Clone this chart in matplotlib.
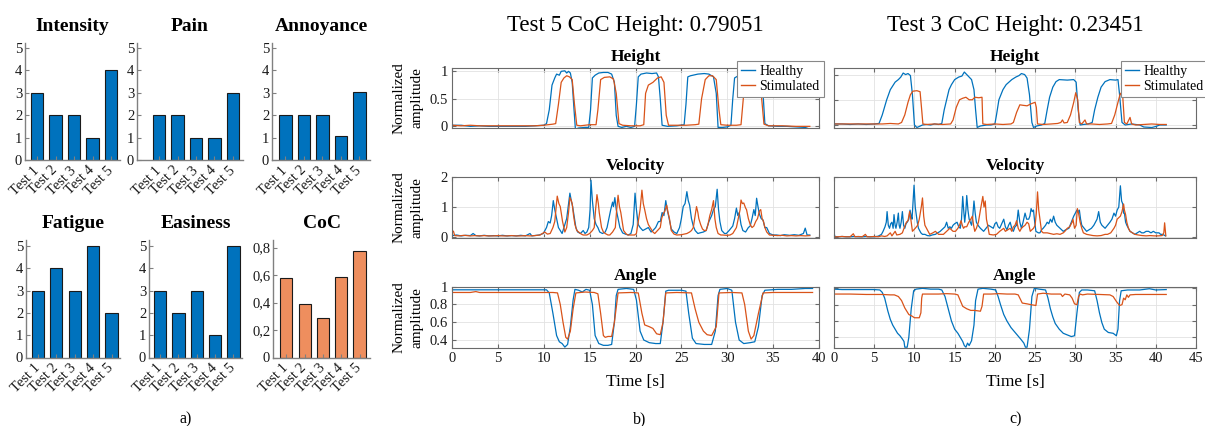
import matplotlib
matplotlib.use('Agg')
import matplotlib.pyplot as plt
import numpy as np
from matplotlib.lines import Line2D
from matplotlib.ticker import FixedLocator, FixedFormatter

plt.rcParams['font.family'] = ['Liberation Serif', 'DejaVu Serif']

# ---------------- data: panel a) ----------------
tests = ['Test 1', 'Test 2', 'Test 3', 'Test 4', 'Test 5']
intensity = [3, 2, 2, 1, 4]
pain = [2, 2, 1, 1, 3]
annoyance = [2, 2, 2, 1.05, 3.05]
fatigue = [3, 4, 3, 5, 2]
easiness = [3, 2, 3, 1, 5]
coc = [0.58, 0.39, 0.29, 0.585, 0.775]
coc_ticks = [0, 0.2, 0.4, 0.6, 0.8]
coc_ticklabels = ['0', '0,2', '0,4', '0,6', '0,8']

# ---------------- data: panel b) Test 5 (time [s], value) ----------------
b_height_healthy = [(0,0.02),(1,0.02),(2,0.0),(3,0.01),(4,0.0),(5,0.0),(6,0.0),(7,0.0),(8,0.0),(9,0.01),(10,0.02),(10.3,0.05),(10.6,0.3),(10.9,0.75),(11.2,0.88),(11.4,0.95),(11.7,0.93),(11.9,1.0),(12.3,1.01),(12.5,0.97),(12.7,1.0),(12.9,0.97),(13.1,0.8),(13.3,0.3),(13.45,-0.05),(13.8,-0.03),(14.5,-0.02),(14.9,-0.02),(15.1,0.3),(15.3,0.88),(15.6,0.93),(16.0,0.97),(16.5,0.98),(17.0,0.98),(17.4,0.95),(17.7,0.8),(17.9,0.2),(18.1,0.0),(18.5,-0.02),(19.0,0.0),(19.5,-0.02),(19.9,0.0),(20.1,0.4),(20.3,0.9),(20.6,0.95),(21.2,0.97),(21.8,0.96),(22.3,0.97),(22.5,0.9),(22.7,0.5),(22.9,0.02),(23.5,0.0),(24.5,0.01),(25.3,0.03),(25.5,0.4),(25.7,0.9),(26.0,0.92),(26.8,0.95),(27.5,0.96),(28.0,0.95),(28.5,0.9),(28.8,0.6),(29.0,-0.02),(29.5,-0.02),(30.0,-0.01),(30.4,0.02),(30.6,0.5),(30.8,0.88),(31.2,0.92),(32.0,0.94),(33.0,0.95),(33.7,0.93),(33.9,0.6),(34.1,0.05),(34.5,0.01),(35.5,0.0),(36.5,0.0),(37.5,-0.01),(38.5,-0.02),(39.0,-0.05)]
b_height_stim = [(0,0.02),(1,0.01),(2,0.02),(3,0.01),(4,0.01),(5,0.01),(6,0.01),(7,0.01),(8,0.01),(9,0.01),(10,0.02),(11.0,0.04),(11.3,0.05),(11.6,0.4),(11.9,0.8),(12.2,0.88),(12.5,0.92),(12.8,0.9),(13.1,0.85),(13.35,0.4),(13.6,0.02),(14.0,0.01),(15.0,0.03),(15.7,0.03),(15.9,0.3),(16.2,0.85),(16.6,0.89),(17.2,0.9),(17.6,0.86),(17.9,0.6),(18.2,0.05),(18.6,0.02),(19.5,0.01),(20.5,0.01),(20.9,0.03),(21.1,0.6),(21.4,0.75),(21.9,0.8),(22.4,0.88),(22.8,0.9),(23.1,0.8),(23.35,0.2),(23.6,0.02),(24.5,0.02),(25.5,0.02),(26.5,0.03),(26.9,0.04),(27.2,0.5),(27.6,0.85),(28.0,0.92),(28.4,0.92),(28.8,0.85),(29.1,0.3),(29.3,0.03),(30.0,0.02),(31.0,0.02),(31.5,0.03),(31.8,0.6),(32.1,0.9),(32.7,0.93),(33.4,0.9),(33.7,0.6),(34.0,0.04),(34.5,0.01),(36.0,0.01),(37.5,0.0),(39.0,0.0)]
b_vel_healthy = [(0,0.03),(0.5,0.05),(1,0.02),(1.5,0.04),(2,0.03),(2.3,0.1),(2.6,0.03),(3,0.02),(3.5,0.04),(4,0.02),(4.5,0.03),(5,0.02),(5.5,0.04),(6,0.02),(6.5,0.03),(7,0.02),(7.5,0.04),(8,0.02),(8.5,0.1),(8.7,0.02),(9,0.03),(9.5,0.05),(9.95,0.1),(10.3,0.3),(10.5,0.5),(10.7,0.45),(10.86,0.7),(11.04,1.2),(11.2,0.9),(11.4,0.6),(11.6,0.3),(11.8,0.2),(12.0,0.1),(12.2,0.3),(12.5,0.6),(12.7,1.1),(12.85,1.45),(13.0,1.2),(13.15,1.0),(13.3,0.7),(13.5,0.3),(13.7,0.15),(14.0,0.1),(14.3,0.2),(14.5,0.1),(14.7,0.15),(14.9,0.3),(15.05,0.9),(15.15,1.88),(15.3,1.2),(15.5,0.6),(15.7,0.4),(15.9,0.3),(16.1,0.15),(16.4,0.1),(16.7,0.15),(16.9,0.3),(17.1,0.6),(17.3,0.9),(17.5,1.15),(17.6,1.0),(17.75,1.3),(17.9,0.9),(18.1,0.6),(18.3,0.3),(18.6,0.12),(18.9,0.08),(19.2,0.05),(19.5,0.1),(19.75,0.4),(19.95,1.45),(20.1,0.9),(20.3,0.4),(20.5,0.3),(20.8,0.2),(21.1,0.25),(21.4,0.3),(21.7,0.15),(21.9,0.2),(22.2,0.3),(22.5,0.5),(22.7,0.5),(22.9,0.8),(23.1,0.7),(23.3,1.2),(23.45,0.9),(23.6,0.7),(23.9,0.25),(24.2,0.15),(24.5,0.1),(24.8,0.3),(25.0,0.6),(25.2,1.0),(25.4,1.1),(25.6,1.5),(25.75,1.2),(25.9,1.05),(26.1,0.6),(26.3,0.35),(26.5,0.2),(26.8,0.1),(27.0,0.12),(27.4,0.15),(27.7,0.2),(28.0,0.5),(28.3,0.7),(28.5,0.9),(28.7,1.0),(28.9,1.58),(29.05,0.9),(29.2,0.5),(29.4,0.2),(29.7,0.1),(29.9,0.1),(30.2,0.2),(30.6,0.35),(30.8,0.6),(31.0,0.95),(31.15,0.7),(31.3,0.8),(31.5,0.4),(31.7,0.2),(32.0,0.15),(32.3,0.3),(32.5,0.35),(32.7,0.6),(32.9,0.9),(33.05,0.7),(33.2,1.28),(33.35,1.0),(33.5,0.75),(33.7,0.6),(33.9,0.55),(34.1,0.3),(34.3,0.3),(34.6,0.1),(35.0,0.05),(35.4,0.05),(35.8,0.03),(36.2,0.06),(36.8,0.04),(37.3,0.06),(37.8,0.04),(38.3,0.1),(38.5,0.28),(38.7,0.05),(39.0,0.05)]
b_vel_stim = [(0,0.15),(0.15,0.18),(0.3,0.03),(0.8,0.02),(1.3,0.04),(2,0.02),(2.5,0.03),(3,0.02),(3.5,0.03),(4,0.02),(4.5,0.02),(5,0.03),(5.5,0.02),(6,0.02),(6.5,0.03),(7,0.02),(7.5,0.02),(8,0.03),(8.5,0.02),(9,0.03),(9.6,0.05),(10.1,0.15),(10.4,0.08),(10.7,0.1),(11.0,0.3),(11.2,0.5),(11.47,1.35),(11.65,1.1),(11.8,1.0),(12.05,0.5),(12.3,0.15),(12.5,0.3),(12.7,0.8),(12.85,1.3),(13.0,1.2),(13.1,1.1),(13.25,0.7),(13.4,0.4),(13.6,0.2),(13.8,0.15),(14.1,0.08),(14.3,0.05),(14.7,0.05),(15.0,0.1),(15.3,0.2),(15.5,0.3),(15.65,0.9),(15.8,1.4),(15.95,1.1),(16.05,0.8),(16.3,0.3),(16.5,0.15),(16.7,0.1),(17.0,0.05),(17.2,0.05),(17.5,0.15),(17.8,0.3),(17.95,0.9),(18.1,1.38),(18.25,1.0),(18.4,0.8),(18.7,0.2),(19.0,0.08),(19.2,0.05),(19.5,0.05),(19.9,0.05),(20.1,0.1),(20.3,0.5),(20.5,0.9),(20.7,1.55),(20.85,1.1),(21.0,0.9),(21.2,0.6),(21.4,0.4),(21.6,0.3),(21.9,0.15),(22.1,0.1),(22.4,0.2),(22.7,0.3),(22.85,0.6),(23.0,0.75),(23.2,0.85),(23.4,1.05),(23.55,0.8),(23.7,0.6),(23.9,0.2),(24.2,0.08),(24.5,0.05),(25.0,0.06),(25.3,0.08),(25.6,0.1),(25.9,0.15),(26.1,0.2),(26.3,0.3),(26.5,0.7),(26.65,1.0),(26.8,0.8),(26.9,0.6),(27.1,0.4),(27.3,0.25),(27.5,0.2),(27.7,0.2),(27.9,0.4),(28.1,0.7),(28.3,0.9),(28.5,1.2),(28.65,0.6),(28.8,0.3),(29.0,0.1),(29.3,0.05),(29.5,0.05),(29.9,0.04),(30.3,0.05),(30.6,0.1),(30.8,0.2),(31.0,0.3),(31.2,0.6),(31.4,0.9),(31.5,1.22),(31.65,1.1),(31.8,1.12),(32.0,0.95),(32.1,0.9),(32.3,0.6),(32.5,0.4),(32.7,0.3),(32.9,0.35),(33.1,0.5),(33.3,0.6),(33.5,0.85),(33.65,0.9),(33.8,0.6),(33.95,0.5),(34.1,0.3),(34.3,0.15),(34.6,0.05),(35,0.04),(35.5,0.03),(36,0.04),(36.5,0.02),(37,0.03),(37.5,0.02),(38,0.03),(38.5,0.02),(39,0.03)]
b_angle_healthy = [(0,0.965),(2,0.965),(5,0.965),(8,0.965),(10.3,0.965),(10.6,0.93),(11.0,0.7),(11.4,0.45),(11.7,0.38),(12.0,0.36),(12.3,0.32),(12.6,0.35),(12.9,0.55),(13.2,0.85),(13.4,0.97),(13.8,0.96),(14.2,0.94),(14.6,0.97),(15.0,0.96),(15.3,0.8),(15.6,0.45),(16.0,0.36),(16.5,0.34),(17.0,0.34),(17.4,0.35),(17.7,0.6),(17.9,0.9),(18.1,0.97),(19.0,0.98),(19.8,0.97),(20.1,0.85),(20.5,0.5),(20.9,0.4),(21.5,0.37),(22.2,0.36),(22.7,0.36),(23.0,0.6),(23.3,0.95),(23.6,0.96),(25.0,0.96),(25.5,0.95),(25.8,0.7),(26.2,0.42),(26.6,0.36),(27.5,0.35),(28.3,0.35),(28.7,0.5),(29.0,0.9),(29.2,0.97),(30.0,0.98),(30.5,0.96),(30.9,0.6),(31.3,0.4),(31.8,0.36),(32.5,0.37),(33.0,0.38),(33.4,0.55),(33.8,0.9),(34.1,0.96),(35.5,0.97),(37.0,0.97),(38.5,0.98),(39.3,0.98)]
b_angle_stim = [(0,0.935),(2,0.935),(2.6,0.945),(3,0.935),(6,0.935),(9,0.935),(11.0,0.935),(11.5,0.93),(11.8,0.8),(12.1,0.6),(12.4,0.43),(12.6,0.41),(12.9,0.5),(13.2,0.75),(13.5,0.93),(14.5,0.94),(15.5,0.935),(15.9,0.92),(16.2,0.7),(16.5,0.45),(16.7,0.43),(17.0,0.44),(17.4,0.44),(17.7,0.6),(18.1,0.93),(19.5,0.935),(20.3,0.93),(20.7,0.7),(21.0,0.57),(21.5,0.55),(21.9,0.53),(22.3,0.47),(22.7,0.46),(23.0,0.6),(23.3,0.93),(24.5,0.935),(26.1,0.93),(26.5,0.75),(26.9,0.6),(27.4,0.5),(27.8,0.46),(28.3,0.45),(28.8,0.55),(29.1,0.93),(30.5,0.935),(31.6,0.93),(31.9,0.8),(32.3,0.5),(32.6,0.41),(32.9,0.45),(33.4,0.7),(33.9,0.93),(35,0.935),(37,0.935),(39.3,0.935)]

# ---------------- data: panel c) Test 3 (time [s], value) ----------------
c_height_healthy = [(0,0.02),(1,0.02),(2,0.01),(3,0.02),(4,0.01),(5,0.02),(5.6,0.03),(6.0,0.2),(6.55,0.5),(7.0,0.7),(7.2,0.75),(7.6,0.85),(8.0,0.9),(8.3,0.95),(8.6,1.03),(8.9,1.0),(9.2,1.02),(9.5,0.98),(9.75,0.6),(10.0,0.0),(10.3,-0.05),(10.6,-0.03),(11.0,0.0),(11.5,0.01),(12.0,0.0),(12.5,0.02),(13.0,0.01),(13.4,0.03),(13.7,0.3),(14.0,0.5),(14.3,0.7),(14.6,0.8),(15.0,0.9),(15.5,0.95),(15.9,0.97),(16.2,1.05),(16.5,1.0),(16.8,0.95),(17.1,0.9),(17.4,0.7),(17.6,0.3),(17.8,-0.05),(18.2,-0.02),(19.0,0.0),(19.5,0.0),(20.0,0.02),(20.2,0.2),(20.5,0.5),(21.0,0.7),(21.4,0.8),(22.1,0.9),(22.6,0.95),(23.0,0.98),(23.3,1.02),(23.7,1.0),(24.0,0.93),(24.3,0.6),(24.6,0.05),(24.8,-0.05),(25.2,-0.02),(25.8,0.0),(26.2,0.03),(26.5,0.3),(26.8,0.55),(27.2,0.75),(27.6,0.86),(28.0,0.9),(29.0,0.89),(29.8,0.9),(30.1,0.85),(30.35,0.3),(30.6,0.0),(31.0,0.01),(31.6,0.02),(32.1,0.05),(32.4,0.3),(32.8,0.55),(33.2,0.75),(33.7,0.86),(34.3,0.9),(35.0,0.89),(35.3,0.9),(35.5,0.6),(35.8,0.05),(36.2,0.0),(37.0,0.02),(38.0,0.0),(38.5,-0.04),(39.5,-0.05),(40.0,-0.03),(40.5,0.0),(41.3,0.0)]
c_height_stim = [(0,0.02),(2,0.02),(4,0.02),(6,0.02),(7,0.03),(8.0,0.02),(8.4,0.05),(8.8,0.2),(9.2,0.45),(9.5,0.6),(9.8,0.67),(10.3,0.68),(10.7,0.66),(10.9,0.3),(11.05,0.02),(11.5,0.01),(12.5,0.02),(13.5,0.01),(14.5,0.02),(14.8,0.1),(15.2,0.35),(15.6,0.5),(16.0,0.53),(16.4,0.55),(16.8,0.5),(17.2,0.5),(17.5,0.55),(18.0,0.54),(18.4,0.55),(18.5,0.02),(19.0,0.01),(20,0.02),(21,0.01),(22.0,0.02),(22.3,0.05),(22.7,0.25),(23.1,0.4),(23.5,0.39),(24.0,0.38),(24.5,0.42),(25.0,0.45),(25.15,0.35),(25.3,0.02),(26,0.01),(27,0.02),(27.8,0.03),(28.2,0.05),(28.4,0.1),(28.6,0.04),(29.0,0.05),(29.4,0.2),(29.8,0.45),(30.05,0.64),(30.3,0.5),(30.5,0.05),(30.8,0.02),(31.2,0.1),(31.4,0.02),(32,0.02),(33,0.01),(34,0.02),(34.5,0.03),(34.9,0.2),(35.3,0.45),(35.6,0.63),(35.9,0.55),(36.1,0.05),(36.4,0.02),(36.8,0.15),(37.0,0.02),(37.5,0.0),(38.5,0.01),(39.5,0.02),(40.5,0.01),(41.3,0.01)]
c_vel_healthy = [(0,0.15),(0.1,0.03),(0.5,0.02),(1,0.03),(1.5,0.02),(2,0.02),(2.5,0.03),(3,0.02),(3.5,0.02),(4,0.03),(4.5,0.02),(5,0.02),(5.5,0.04),(5.9,0.1),(6.1,0.2),(6.34,0.35),(6.5,0.5),(6.6,0.85),(6.75,0.4),(6.9,0.3),(7.05,0.45),(7.2,0.5),(7.35,0.3),(7.46,0.75),(7.6,0.4),(7.7,0.3),(7.85,0.5),(8.0,0.8),(8.1,0.4),(8.2,0.3),(8.35,0.5),(8.5,0.85),(8.65,0.4),(8.8,0.3),(8.95,0.45),(9.1,0.5),(9.3,0.6),(9.45,0.9),(9.6,0.7),(9.7,0.6),(9.95,1.72),(10.1,1.0),(10.2,0.8),(10.35,0.5),(10.5,0.3),(10.8,0.15),(11.0,0.1),(11.3,0.1),(11.6,0.06),(11.9,0.05),(12.2,0.08),(12.6,0.1),(12.9,0.15),(13.2,0.2),(13.4,0.25),(13.6,0.3),(13.8,0.35),(14.0,0.5),(14.2,0.3),(14.4,0.35),(14.6,0.3),(14.8,0.4),(15.0,0.45),(15.3,0.5),(15.5,0.35),(15.7,0.3),(15.85,0.6),(16.0,1.35),(16.15,0.8),(16.25,0.5),(16.4,0.9),(16.5,1.38),(16.65,0.9),(16.8,0.6),(16.95,0.5),(17.1,0.4),(17.25,0.7),(17.4,1.2),(17.55,0.8),(17.7,0.5),(17.9,0.4),(18.2,0.3),(18.4,0.25),(18.6,0.2),(18.9,0.3),(19.2,0.4),(19.5,0.35),(19.8,0.3),(20.0,0.45),(20.2,0.5),(20.4,0.35),(20.6,0.3),(20.85,0.45),(21.1,0.6),(21.3,0.35),(21.5,0.25),(21.7,0.4),(21.9,0.5),(22.1,0.3),(22.3,0.2),(22.5,0.35),(22.7,0.4),(22.9,0.9),(23.1,0.5),(23.3,0.3),(23.5,0.5),(23.75,0.8),(23.95,0.6),(24.2,0.6),(24.35,0.7),(24.5,0.95),(24.65,0.85),(24.8,0.9),(24.95,0.5),(25.1,0.2),(25.4,0.15),(25.6,0.15),(25.8,0.25),(26.0,0.3),(26.3,0.4),(26.5,0.5),(26.7,0.45),(26.9,0.6),(27.1,0.5),(27.3,0.7),(27.5,0.5),(27.7,0.4),(27.9,0.35),(28.1,0.3),(28.3,0.25),(28.5,0.2),(28.8,0.25),(29.2,0.3),(29.5,0.5),(29.8,0.7),(30.0,0.8),(30.2,0.9),(30.35,0.85),(30.5,0.9),(30.65,0.6),(30.8,0.4),(31.1,0.3),(31.4,0.2),(31.7,0.25),(32.0,0.3),(32.3,0.4),(32.5,0.5),(32.7,0.6),(32.9,0.85),(33.1,0.5),(33.3,0.4),(33.5,0.35),(33.7,0.3),(34.0,0.4),(34.3,0.5),(34.55,0.6),(34.8,0.8),(35.0,0.7),(35.2,0.9),(35.4,1.0),(35.6,1.7),(35.75,1.2),(35.9,1.1),(36.0,0.8),(36.1,0.8),(36.25,0.5),(36.4,0.4),(36.6,0.3),(36.8,0.2),(37.1,0.15),(37.4,0.1),(37.7,0.15),(38.0,0.2),(38.25,0.15),(38.5,0.15),(38.8,0.2),(39.1,0.2),(39.4,0.15),(39.7,0.2),(40.0,0.15),(40.4,0.15),(40.6,0.1),(40.8,0.1),(41.0,0.08),(41.2,0.05)]
c_vel_stim = [(0,0.02),(0.5,0.02),(1,0.03),(1.5,0.02),(2,0.02),(2.4,0.12),(2.6,0.02),(3,0.03),(3.5,0.02),(3.9,0.1),(4.1,0.02),(4.5,0.02),(5,0.03),(5.5,0.02),(5.9,0.05),(6.3,0.03),(6.6,0.05),(7.0,0.15),(7.2,0.05),(7.6,0.2),(7.8,0.08),(8.2,0.1),(8.5,0.15),(8.7,0.3),(9.0,0.5),(9.2,0.55),(9.4,0.85),(9.55,0.6),(9.75,0.2),(10.1,0.3),(10.4,0.4),(10.6,0.6),(10.85,1.0),(11.0,1.3),(11.15,0.7),(11.3,0.4),(11.5,0.3),(11.9,0.1),(12.3,0.15),(12.6,0.2),(13.0,0.1),(13.6,0.1),(14.0,0.2),(14.4,0.3),(14.8,0.2),(15.1,0.2),(15.4,0.3),(15.6,0.4),(15.8,0.55),(15.95,0.4),(16.1,0.3),(16.25,0.35),(16.5,0.35),(16.75,0.5),(17.0,0.6),(17.2,0.7),(17.35,0.4),(17.5,0.2),(17.7,0.3),(17.95,0.5),(18.2,0.9),(18.5,1.35),(18.65,1.0),(18.8,1.2),(18.95,0.6),(19.1,0.4),(19.3,0.1),(19.8,0.08),(20.2,0.1),(20.6,0.2),(21.1,0.3),(21.3,0.2),(21.6,0.25),(21.9,0.3),(22.1,0.2),(22.3,0.35),(22.5,0.4),(22.7,0.55),(22.9,0.3),(23.1,0.2),(23.3,0.3),(23.5,0.35),(23.75,0.4),(24.0,0.5),(24.2,0.45),(24.4,0.2),(24.6,0.25),(24.8,0.3),(25.0,0.4),(25.15,0.8),(25.3,1.5),(25.45,0.9),(25.6,0.6),(25.8,0.2),(26.0,0.15),(26.5,0.15),(27.0,0.12),(27.3,0.1),(27.7,0.12),(28.1,0.1),(28.5,0.15),(28.7,0.2),(29.0,0.3),(29.3,0.35),(29.6,0.5),(29.7,0.6),(29.9,0.3),(30.1,0.4),(30.25,0.95),(30.4,0.8),(30.6,0.5),(30.8,0.3),(31.0,0.15),(31.4,0.1),(31.8,0.08),(32.2,0.06),(32.7,0.05),(33.2,0.06),(33.7,0.1),(34.0,0.1),(34.4,0.15),(34.8,0.3),(35.0,0.4),(35.2,0.6),(35.4,0.65),(35.6,0.7),(35.8,0.85),(36.0,1.1),(36.1,0.9),(36.25,0.75),(36.4,0.5),(36.6,0.3),(36.8,0.2),(37.1,0.15),(37.4,0.1),(37.8,0.08),(38.3,0.06),(38.8,0.05),(39.3,0.06),(39.8,0.05),(40.3,0.05),(40.8,0.06),(41.0,0.15),(41.1,0.48),(41.25,0.05)]
c_angle_healthy = [(0,0.99),(1,0.985),(3,0.985),(5,0.985),(5.7,0.98),(6.0,0.95),(6.3,0.88),(6.7,0.72),(7.0,0.62),(7.3,0.55),(7.6,0.5),(7.9,0.45),(8.2,0.42),(8.5,0.38),(8.7,0.35),(8.8,0.28),(9.1,0.28),(9.3,0.4),(9.6,0.75),(9.9,0.97),(10.2,0.99),(11,1.0),(12,0.99),(13.0,0.99),(13.4,0.98),(13.8,0.9),(14.2,0.75),(14.6,0.6),(15.0,0.5),(15.4,0.45),(15.7,0.4),(16.0,0.35),(16.2,0.3),(16.4,0.28),(16.6,0.33),(16.8,0.3),(17.1,0.36),(17.4,0.55),(17.6,0.85),(17.9,0.99),(18.5,1.0),(19.5,0.99),(20.1,0.98),(20.4,0.9),(20.7,0.8),(21.1,0.68),(21.5,0.6),(22.0,0.52),(22.6,0.45),(23.2,0.38),(23.6,0.33),(23.8,0.28),(24.0,0.28),(24.3,0.5),(24.6,0.9),(24.9,1.0),(25.5,0.99),(26.3,0.98),(26.6,0.88),(26.9,0.75),(27.2,0.65),(27.5,0.57),(28.0,0.5),(28.5,0.45),(29.0,0.43),(29.5,0.41),(29.9,0.42),(30.2,0.7),(30.5,0.95),(30.8,0.98),(31.5,0.98),(32.4,0.97),(32.7,0.85),(33.0,0.7),(33.3,0.58),(33.6,0.5),(34.1,0.46),(34.7,0.45),(35.1,0.42),(35.3,0.5),(35.5,0.85),(35.7,0.97),(36.5,0.98),(38,0.98),(39.2,0.995),(40,0.98),(41.3,0.985)]
c_angle_stim = [(0,0.93),(2,0.93),(4,0.925),(6,0.925),(7.0,0.92),(7.5,0.92),(8.0,0.9),(8.4,0.85),(8.8,0.76),(9.3,0.68),(9.7,0.66),(10.0,0.64),(10.6,0.64),(10.8,0.7),(10.9,0.88),(11.0,0.93),(12,0.93),(13,0.93),(14,0.935),(15.0,0.93),(15.4,0.92),(15.7,0.85),(16.0,0.78),(16.5,0.75),(17.0,0.73),(17.5,0.73),(18.2,0.72),(18.4,0.78),(18.6,0.93),(19.5,0.93),(20.5,0.935),(21.5,0.93),(22.5,0.93),(22.9,0.92),(23.2,0.86),(23.4,0.82),(24.0,0.81),(24.5,0.8),(25.1,0.79),(25.3,0.93),(26,0.94),(27,0.93),(28.2,0.93),(28.4,0.9),(28.7,0.93),(29.3,0.92),(29.6,0.88),(29.9,0.81),(30.2,0.8),(30.4,0.9),(30.6,0.93),(30.9,0.92),(31.5,0.93),(33,0.925),(34.3,0.92),(34.7,0.9),(35.1,0.84),(35.5,0.79),(35.8,0.8),(36.0,0.88),(36.2,0.86),(36.4,0.92),(36.6,0.89),(36.8,0.92),(37.5,0.925),(39,0.925),(41.3,0.925)]

series_labels = ['Healthy', 'Stimulated']

# ---------------- figure ----------------
W, H = 1205, 426
fig = plt.figure(figsize=(W / 100, H / 100), dpi=100)


def rect(l, t, r, b):
    return [l / W, 1 - b / H, (r - l) / W, (b - t) / H]


BLUE = '#0072BD'
ORANGE = '#D95319'
BAR_BLUE = '#0072BD'
BAR_ORANGE = '#EE8E5E'
SPINE = '#808080'

# ---- panel a ----
bar_panels = [
    ('Intensity', intensity, BAR_BLUE, (25, 43, 120, 160), (0.34, 5.48), 5.22),
    ('Pain', pain, BAR_BLUE, (137, 43, 243, 160), (-0.2, 5.55), 5.22),
    ('Annoyance', annoyance, BAR_BLUE, (272, 43, 370, 160), (0.27, 5.57), 5.22),
    ('Fatigue', fatigue, BAR_BLUE, (26, 240, 120, 357.5), (0.355, 5.46), 5.27),
    ('Easiness', easiness, BAR_BLUE, (149, 240, 242, 357.5), (0.39, 5.47), 5.27),
    ('CoC', coc, BAR_ORANGE, (273, 240, 370, 357.5), (0.27, 5.57), 0.856),
]
xpos = np.arange(1, len(tests) + 1)
for title, vals, col, r, xl, ytop in bar_panels:
    ax = fig.add_axes(rect(*r))
    ax.bar(xpos, vals, width=0.67, color=col, edgecolor='#1a1a1a', linewidth=0.8)
    ax.set_xlim(*xl)
    ax.set_ylim(0, ytop)
    for s in ['top', 'right']:
        ax.spines[s].set_visible(False)
    for s in ['left', 'bottom']:
        ax.spines[s].set_color(SPINE)
        ax.spines[s].set_linewidth(1.0)
    ax.set_xticks(xpos)
    ax.set_xticklabels(tests, rotation=45, ha='right', va='center',
                       rotation_mode='anchor', fontsize=10.5)
    if title == 'CoC':
        ax.set_yticks(coc_ticks)
        ax.set_yticklabels(coc_ticklabels)
    else:
        ax.set_yticks([0, 1, 2, 3, 4, 5])
    ax.tick_params(axis='both', direction='in', length=3, color=SPINE,
                   labelsize=10.5, labelcolor='#1a1a1a', pad=2)
    ax.tick_params(axis='x', pad=6)
    ax.set_title(title, fontsize=14, fontweight='bold', pad=8.5)


# ---- panels b and c ----
def unz(pairs):
    a = np.array(pairs, dtype=float)
    return a[:, 0], a[:, 1]


cols = {
    'b': dict(l=452, r=819, xmax=40, xticks=np.arange(0, 41, 5),
              title='Test 5 CoC Height: 0.79051',
              data=[(b_height_healthy, b_height_stim),
                    (b_vel_healthy, b_vel_stim),
                    (b_angle_healthy, b_angle_stim)],
              ylims=[(-0.03, 1.07), (-0.05, 2.0), (0.31, 1.0)],
              labels=True, leg=(737, 61)),
    'c': dict(l=834, r=1196, xmax=45, xticks=np.arange(0, 46, 5),
              title='Test 3 CoC Height: 0.23451',
              data=[(c_height_healthy, c_height_stim),
                    (c_vel_healthy, c_vel_stim),
                    (c_angle_healthy, c_angle_stim)],
              ylims=[(-0.06, 1.14), (-0.02, 2.0), (0.27, 1.02)],
              labels=False, leg=(1121, 61)),
}
rows = [('Height', 67.5, 128, [0, 0.5, 1], ['0', '0.5', '1']),
        ('Velocity', 176.7, 238, [0, 1, 2], ['0', '1', '2']),
        ('Angle', 286.7, 348, [0.4, 0.6, 0.8, 1], ['0.4', '0.6', '0.8', '1'])]

AX_COL = '#6a6a6a'
for key, c in cols.items():
    for i, (rtitle, top, bot, yt, ytl) in enumerate(rows):
        ax = fig.add_axes(rect(c['l'], top, c['r'], bot))
        hl, sl = c['data'][i]
        th, vh = unz(hl)
        ts, vs = unz(sl)
        ax.plot(th, vh, color=BLUE, lw=0.9)
        ax.plot(ts, vs, color=ORANGE, lw=0.9)
        ax.set_xlim(0, c['xmax'])
        ax.set_ylim(*c['ylims'][i])
        ax.set_xticks(c['xticks'])
        ax.set_yticks(yt)
        ax.grid(True, color='#e2e2e2', lw=0.6)
        ax.set_axisbelow(True)
        for s in ax.spines.values():
            s.set_color(AX_COL)
            s.set_linewidth(0.8)
        ax.tick_params(axis='both', direction='in', length=3, color=AX_COL,
                       labelsize=10.5, labelcolor='#1a1a1a', pad=3,
                       top=True, right=True)
        if c['labels']:
            ax.set_yticklabels(ytl)
        else:
            ax.set_yticklabels([])
        if rtitle == 'Angle':
            ax.set_xticklabels([str(v) for v in c['xticks']])
        else:
            ax.set_xticklabels([])
        ax.set_title(rtitle, fontsize=12.5, fontweight='bold', pad=5)
        if c['labels']:
            yc = 1 - (top + bot) / 2 / H
            fig.text(399 / W, yc, 'Normalized', rotation=90, ha='center',
                     va='center', fontsize=11)
            fig.text(417 / W, yc, 'amplitude', rotation=90, ha='center',
                     va='center', fontsize=11)
    xc = (c['l'] + c['r']) / 2 / W
    fig.text(xc, 1 - 31 / H, c['title'], ha='center', va='baseline', fontsize=16.5)
    fig.text(xc, 1 - 382 / H, 'Time [s]', ha='center', va='center', fontsize=12.5)
    handles = [Line2D([], [], color=BLUE, lw=1.0), Line2D([], [], color=ORANGE, lw=1.0)]
    lx, ly = c['leg']
    leg = fig.legend(handles, series_labels, loc='upper left',
                     bbox_to_anchor=(lx / W, 1 - ly / H), fontsize=10,
                     handlelength=1.0, handletextpad=0.3, borderpad=0.3,
                     labelspacing=0.15, borderaxespad=0, fancybox=False,
                     framealpha=1, edgecolor='#888888')
    leg.get_frame().set_linewidth(0.8)

fig.text(186 / W, 1 - 419 / H, 'a)', ha='center', va='center', fontsize=11.5)
fig.text(640 / W, 1 - 419 / H, 'b)', ha='center', va='center', fontsize=11.5)
fig.text(1016 / W, 1 - 419 / H, 'c)', ha='center', va='center', fontsize=11.5)

fig.savefig('out.png', dpi=100)
